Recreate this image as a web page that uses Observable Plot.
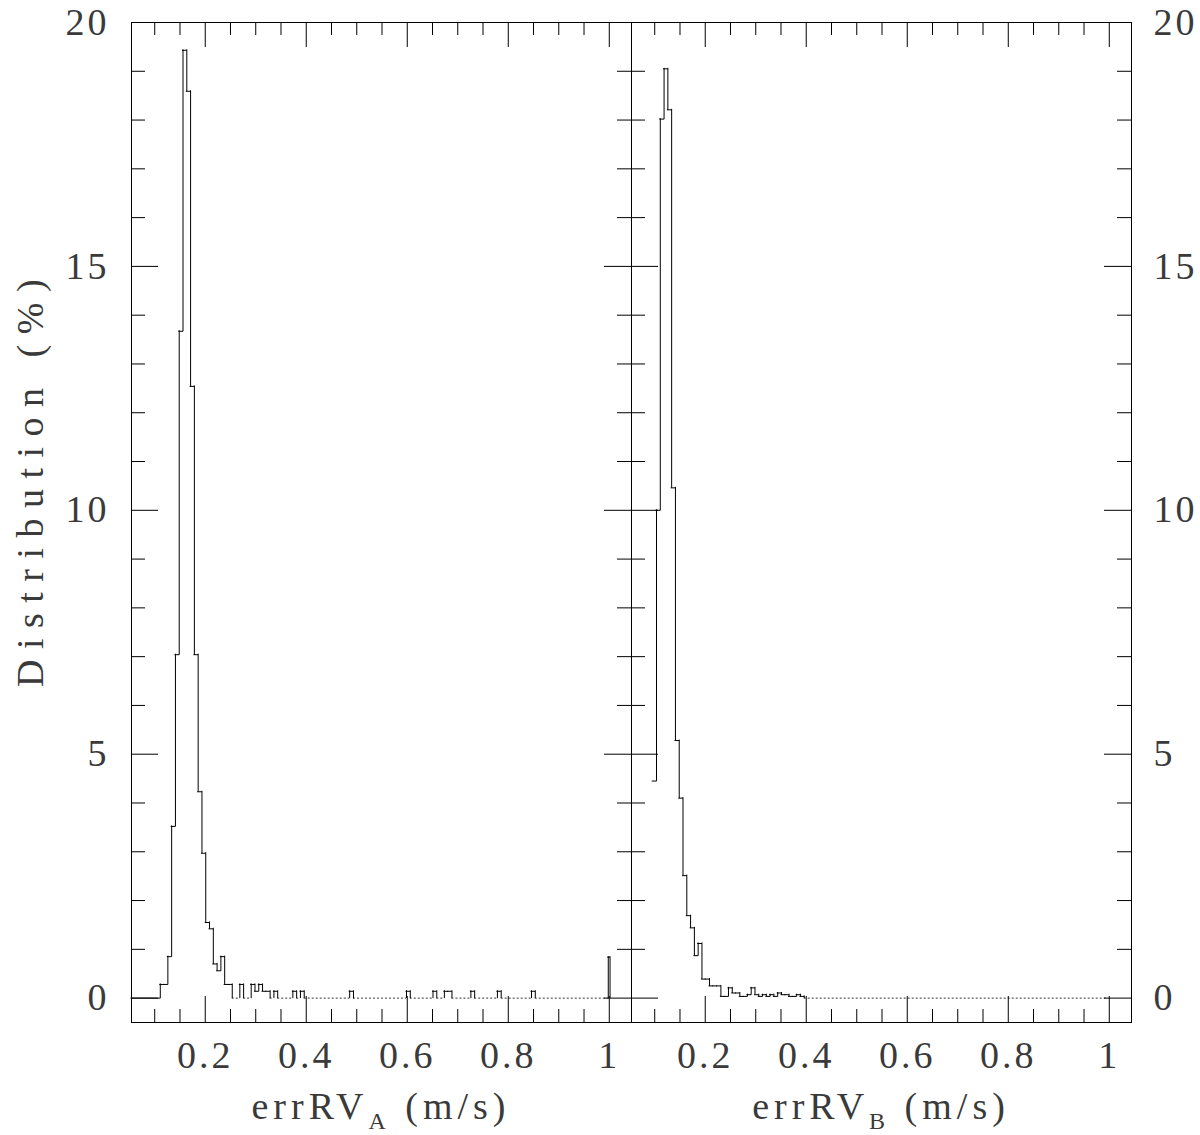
<!DOCTYPE html>
<html>
<head>
<meta charset="utf-8">
<script src="https://cdn.jsdelivr.net/npm/d3@7"></script>
<script src="https://cdn.jsdelivr.net/npm/@observablehq/plot@0.6"></script>
<style>
  html, body { margin: 0; padding: 0; background: #fff; }
  #chart { position: relative; width: 1200px; height: 1135px; overflow: hidden; }
  #chart svg { position: absolute; top: 0; overflow: visible; }
</style>
</head>
<body>
<div id="chart"></div>
<script>
// ---------------- data ----------------
// histogram bins: left edge of bin k = binOrigin + k * binWidth (in m/s)
const binOrigin = 0.006;
const binWidth = 0.0075;

// errRV_A distribution (%), bins starting at index firstBinA
const firstBinA = 14;
const valuesA = [
  0.28, 0.28, 0.85, 3.52, 7.04, 13.67, 19.43, 18.59, 12.54, 7.04, 4.23, 2.97, 1.55, 1.42, 0.70, 0.56, 0.85, 0.28, 0.28,
  0, 0, 0.28, 0, 0, 0.28, 0.14, 0.28, 0.14, 0.14, 0, 0.14, 0, 0, 0, 0,
  0.14, 0, 0.14,
  0, 0, 0, 0, 0, 0, 0, 0, 0, 0, 0, 0,
  0.14,
  0, 0, 0, 0, 0, 0, 0, 0, 0, 0, 0, 0, 0, 0,
  0.14,
  0, 0, 0, 0, 0, 0,
  0.14, 0, 0, 0.14, 0.14,
  0, 0, 0, 0, 0,
  0.14,
  0, 0, 0, 0, 0, 0,
  0.14,
  0, 0, 0, 0, 0, 0, 0, 0,
  0.14,
  0, 0, 0, 0, 0, 0, 0, 0, 0, 0, 0, 0, 0, 0, 0, 0, 0, 0, 0
];
// overflow bin of errRV_A at 1 m/s
const overflowEdgesA = [0.998, 1.0015];
const overflowValueA = 0.84;

// errRV_B distribution (%), bins starting at index firstBinB
const firstBinB = 12;
const valuesB = [
  4.45, 10.0, 18.02, 19.05, 18.21, 10.46, 5.28, 4.10, 2.51, 1.69, 1.44, 0.87, 1.12, 0.39, 0.39, 0.25, 0.25, 0.25,
  0.035, 0.035, 0.21, 0.105, 0.105, 0.035, 0.035, 0.07, 0.21, 0.07, 0.035, 0.07, 0.035, 0.07, 0.035, 0.105, 0.07, 0.07, 0.035, 0.035, 0.07, 0.035,
  0, 0, 0, 0, 0, 0, 0, 0, 0, 0, 0, 0, 0, 0, 0, 0, 0, 0, 0, 0,
  0, 0, 0, 0, 0, 0, 0, 0, 0, 0, 0, 0, 0, 0, 0, 0, 0, 0, 0, 0,
  0, 0, 0, 0, 0, 0, 0, 0, 0, 0, 0, 0, 0, 0, 0, 0, 0, 0, 0, 0,
  0, 0, 0, 0, 0, 0, 0, 0, 0, 0, 0, 0, 0, 0, 0, 0, 0, 0, 0, 0
];

// axes
const xDomain = [0.054, 1.044];
const yDomain = [-0.5, 20];
const xMajorTicks = [0.2, 0.4, 0.6, 0.8, 1];
const xMinorTicks = [0.1, 0.15, 0.25, 0.3, 0.35, 0.45, 0.5, 0.55, 0.65, 0.7, 0.75, 0.85, 0.9, 0.95];
const yMajorTicks = [0, 5, 10, 15, 20];
const yMinorTicks = [1, 2, 3, 4, 6, 7, 8, 9, 11, 12, 13, 14, 16, 17, 18, 19];
const yLabel = "Distribution (%)";
const xLabelA = ["errRV", "A", " (m/s)"];
const xLabelB = ["errRV", "B", " (m/s)"];

// ---------------- layout ----------------
const H = 1135, mTop = 22, mBottom = 113;
const innerH = H - mTop - mBottom; // 1000
const innerW = 500;
const font = "'Liberation Serif', 'DejaVu Serif', serif";
const textColor = "#3a3a3a";

function makeBins(first, values) {
  return values.map((v, i) => {
    const x1 = binOrigin + (first + i) * binWidth;
    return {x1, x2: x1 + binWidth, v};
  });
}

function outline(bins, leading, trailingDrop) {
  const hs = [], vs = [];
  let prev = null;
  if (leading) { hs.push({x1: xDomain[0], x2: bins[0].x1, y: 0, dotted: false}); prev = 0; }
  for (const b of bins) {
    if (prev !== null && prev !== b.v) vs.push({x: b.x1, y1: prev, y2: b.v});
    const dotted = b.v === 0;
    const last = hs[hs.length - 1];
    if (last && last.dotted && dotted && last.y === 0) last.x2 = b.x2;
    else hs.push({x1: b.x1, x2: b.x2, y: b.v, dotted});
    prev = b.v;
  }
  if (trailingDrop && prev !== 0) vs.push({x: bins[bins.length - 1].x2, y1: prev, y2: 0});
  return {hs, vs};
}

function ticksMarks(side) {
  return [
    Plot.ruleX(xMajorTicks, {x: d => d, insetTop: innerH - 26, stroke: "#000"}),
    Plot.ruleX(xMinorTicks, {x: d => d, insetTop: innerH - 13, stroke: "#000"}),
    Plot.ruleX(xMajorTicks, {x: d => d, insetBottom: innerH - 25, stroke: "#000"}),
    Plot.ruleX(xMinorTicks, {x: d => d, insetBottom: innerH - 13, stroke: "#000"}),
    Plot.ruleY(yMajorTicks, {y: d => d, insetRight: innerW - 27, stroke: "#000"}),
    Plot.ruleY(yMinorTicks, {y: d => d, insetRight: innerW - 14, stroke: "#000"}),
    Plot.ruleY(yMajorTicks, {y: d => d, insetLeft: innerW - 27, stroke: "#000"}),
    Plot.ruleY(yMinorTicks, {y: d => d, insetLeft: innerW - 14, stroke: "#000"}),
    Plot.axisX(xMajorTicks, {anchor: "bottom", tickSize: 0, tickPadding: 19, tickFormat: d => `${d}`, fill: textColor}),
    Plot.axisY(yMajorTicks, {anchor: side, tickSize: 0, tickPadding: 22, tickFormat: d => `${d}`, fill: textColor}),
    Plot.frame({stroke: "#000"})
  ];
}

function histMarks(seg) {
  return [
    Plot.ruleY(seg.hs.filter(d => !d.dotted), {x1: "x1", x2: "x2", y: "y", stroke: "#000", strokeLinecap: "square"}),
    Plot.ruleY(seg.hs.filter(d => d.dotted), {x1: "x1", x2: "x2", y: "y", stroke: "#000", strokeDasharray: "2,2", strokeOpacity: 0.8}),
    Plot.ruleX(seg.vs, {x: "x", y1: "y1", y2: "y2", stroke: "#000", strokeLinecap: "square"})
  ];
}

const binsA = makeBins(firstBinA, valuesA);
binsA.push({x1: binsA[binsA.length - 1].x2, x2: overflowEdgesA[0], v: 0});
binsA.push({x1: overflowEdgesA[0], x2: overflowEdgesA[1], v: overflowValueA});
const segA = outline(binsA, true, true);
const segB = outline(makeBins(firstBinB, valuesB), false, false);

const common = {
  height: H, marginTop: mTop, marginBottom: mBottom,
  x: {domain: xDomain, type: "linear"},
  y: {domain: yDomain, type: "linear"},
  style: {fontFamily: font, fontSize: "38px", color: "#000", background: "transparent", letterSpacing: "3px"}
};

const left = Plot.plot({
  ...common, width: 631, marginLeft: 131, marginRight: 0,
  marks: [...histMarks(segA), ...ticksMarks("left")]
});
const right = Plot.plot({
  ...common, width: 569, marginLeft: 0, marginRight: 69,
  marks: [...histMarks(segB), ...ticksMarks("right")]
});
left.style.left = "0px";
right.style.left = "631px";
const chart = document.getElementById("chart");
chart.appendChild(left);
chart.appendChild(right);

function addXLabel(svg, parts, cx) {
  const t = d3.select(svg).append("text")
    .attr("x", cx).attr("y", 1119)
    .attr("text-anchor", "middle")
    .attr("fill", textColor)
    .style("font-family", font).style("font-size", "38px").style("letter-spacing", "5px");
  t.append("tspan").text(parts[0]);
  t.append("tspan").attr("dy", 10).style("font-size", "24px").text(parts[1]);
  t.append("tspan").attr("dy", -10).text(parts[2]);
}
addXLabel(left, xLabelA, 131 + innerW / 2);
addXLabel(right, xLabelB, innerW / 2);

d3.select(left).append("text")
  .attr("transform", "translate(43,478) rotate(-90)")
  .attr("text-anchor", "middle")
  .attr("fill", textColor)
  .style("font-family", font).style("font-size", "38px").style("letter-spacing", "10.5px")
  .text(yLabel);
</script>
</body>
</html>
